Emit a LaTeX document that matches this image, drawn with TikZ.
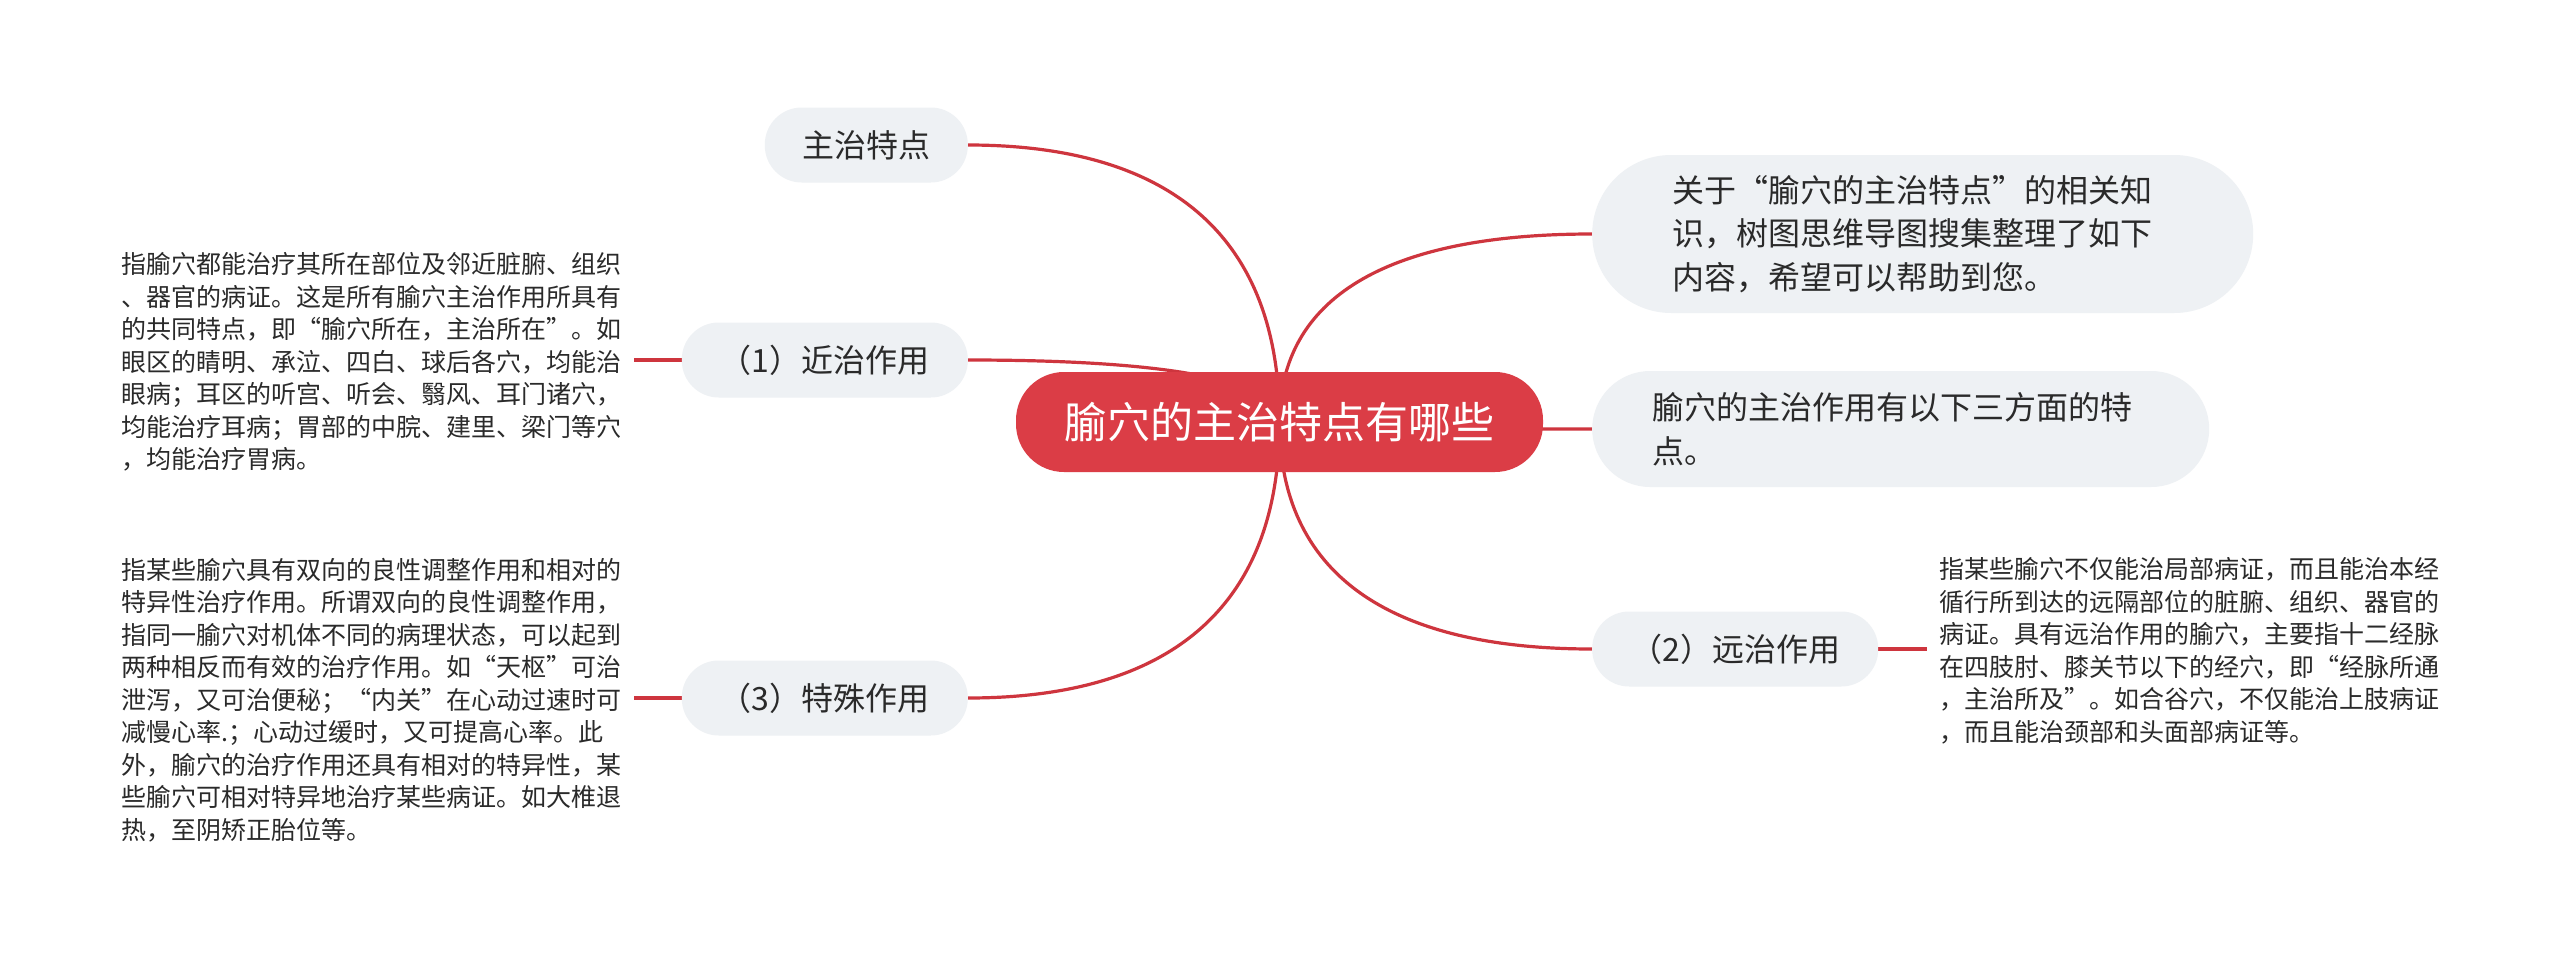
\documentclass[tikz,border=0pt]{standalone}
\usepackage{fontspec}
\usetikzlibrary{calc}
\setmainfont{Noto Sans CJK SC}
\definecolor{rootred}{HTML}{DB3D46}
\definecolor{linered}{HTML}{CE353E}
\definecolor{pill}{HTML}{EEF1F4}
\definecolor{ink}{HTML}{2A2A2A}
\pgfdeclarelayer{paper}
\pgfdeclarelayer{bg}
\pgfsetlayers{paper,bg,main}
\newcommand{\branch}[1]{%
  \draw[conn] (root.center) .. controls ($(root.center)!0.66!(root.center|-#1)$)
    and ($(#1)!0.66!(root.center|-#1)$) .. (#1);}
\begin{document}
\begin{tikzpicture}[x=1pt,y=-1pt,
  conn/.style={draw=linered,line width=3.2pt},
  rootnode/.style={fill=rootred,text=white,rounded corners=48pt,minimum width=527pt,minimum height=100pt,inner sep=0pt,font=\fontsize{43}{50}\selectfont},
  pillnode/.style={fill=pill,text=ink,rounded corners=37pt,minimum height=75pt,inner sep=0pt,font=\fontsize{32}{40}\selectfont},
  bignode/.style={fill=pill,text=ink,align=left,inner ysep=0pt,font=\fontsize{32}{43.5}\selectfont},
  blocknode/.style={text=ink,align=left,inner xsep=12pt,inner ysep=0pt,font=\fontsize{25}{32.5}\selectfont}]
\useasboundingbox (0,0) rectangle (2560,964);
\begin{pgfonlayer}{paper}
\fill[white] (0,0) rectangle (2560,964);
\end{pgfonlayer}

\node[rootnode] (root) at (1279.5,422) {腧穴的主治特点有哪些};

\node[pillnode,minimum width=203pt,anchor=east] (top) at (968,145) {主治特点};
\node[pillnode,minimum width=286pt,anchor=east] (near) at (968,360) {（1）近治作用};
\node[pillnode,minimum width=286pt,anchor=east] (special) at (968,698) {（3）特殊作用};
\node[pillnode,minimum width=286pt,anchor=west] (far) at (1592,649) {（2）远治作用};

\node[bignode,text width=501pt,inner xsep=80pt,minimum height=158pt,rounded corners=79pt,anchor=west] (about) at (1592,234)
  {关于“腧穴的主治特点”的相关知\\识，树图思维导图搜集整理了如下\\内容，希望可以帮助到您。};
\node[bignode,text width=497pt,inner xsep=60pt,minimum height=116pt,rounded corners=58pt,anchor=west] (info) at (1592,429)
  {腧穴的主治作用有以下三方面的特\\点。};

\node[blocknode,anchor=east] (nearblock) at (634,362)
  {指腧穴都能治疗其所在部位及邻近脏腑、组织\\、器官的病证。这是所有腧穴主治作用所具有\\的共同特点，即“腧穴所在，主治所在”。如\\眼区的睛明、承泣、四白、球后各穴，均能治\\眼病；耳区的听宫、听会、翳风、耳门诸穴，\\均能治疗耳病；胃部的中脘、建里、梁门等穴\\，均能治疗胃病。};
\node[blocknode,anchor=east] (specialblock) at (634,700)
  {指某些腧穴具有双向的良性调整作用和相对的\\特异性治疗作用。所谓双向的良性调整作用，\\指同一腧穴对机体不同的病理状态，可以起到\\两种相反而有效的治疗作用。如“天枢”可治\\泄泻，又可治便秘；“内关”在心动过速时可\\减慢心率.；心动过缓时，又可提高心率。此\\外，腧穴的治疗作用还具有相对的特异性，某\\些腧穴可相对特异地治疗某些病证。如大椎退\\热，至阴矫正胎位等。};
\node[blocknode,anchor=west] (farblock) at (1927,651)
  {指某些腧穴不仅能治局部病证，而且能治本经\\循行所到达的远隔部位的脏腑、组织、器官的\\病证。具有远治作用的腧穴，主要指十二经脉\\在四肢肘、膝关节以下的经穴，即“经脉所通\\，主治所及”。如合谷穴，不仅能治上肢病证\\，而且能治颈部和头面部病证等。};

\begin{pgfonlayer}{bg}
\branch{top.east}
\branch{near.east}
\branch{special.east}
\branch{about.west}
\branch{info.west}
\branch{far.west}
\draw[conn] (near.west) -- (nearblock.east |- near.west);
\draw[conn] (special.west) -- (specialblock.east |- special.west);
\draw[conn] (far.east) -- (farblock.west |- far.east);
\end{pgfonlayer}
\end{tikzpicture}
\end{document}
